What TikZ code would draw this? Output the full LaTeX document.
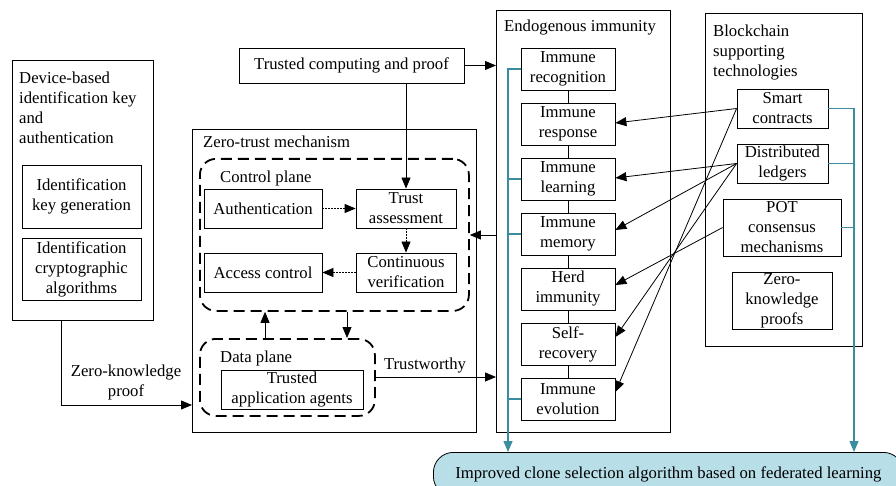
\documentclass[tikz,border=0pt]{standalone}
\usepackage{fontspec}
\setmainfont{Liberation Serif}
\usetikzlibrary{arrows.meta}
\definecolor{linkteal}{RGB}{58,140,160}
\definecolor{pillfill}{RGB}{184,222,232}

\begin{document}
\begin{tikzpicture}[x=1pt,y=-1pt,
  font=\fontsize{16.7}{20}\selectfont,
  box/.style={draw, line width=0.8pt, align=center, inner sep=0pt},
  frame/.style={draw, line width=0.8pt, inner sep=0pt, anchor=north west},
  plane/.style={draw, line width=1.8pt, dash pattern=on 11pt off 6pt,
                rounded corners=16pt, inner sep=0pt, anchor=north west},
  arr/.style={-{Triangle[length=11pt,width=9pt]}, line width=0.8pt},
  darr/.style={arr, dash pattern=on 1.5pt off 1.5pt},
  tline/.style={draw=linkteal, line width=1.3pt},
  tarr/.style={tline, -{Triangle[length=11pt,width=9pt]}},
  lbl/.style={inner sep=0pt, align=left}
]
\useasboundingbox (0,0) rectangle (896,486);
\clip (0,0) rectangle (896,486);

% ---- device-based identification ----
\node[frame, minimum width=141, minimum height=260] (dev) at (12,60) {};
\node[lbl, anchor=north west] (devt) at (19,72)
  {Device-based\\identification key\\and\\authentication};
\node[box, minimum width=119, minimum height=63] (keygen) at (81.5,196.5)
  {Identification\\key generation};
\node[box, minimum width=119, minimum height=62] (crypt) at (81.5,269)
  {Identification\\cryptographic\\algorithms};

% ---- trusted computing ----
\node[box, minimum width=225, minimum height=35] (tc) at (351.5,65.5)
  {Trusted computing and proof};

% ---- zero-trust mechanism ----
\node[frame, minimum width=284, minimum height=303] (zt) at (192,129) {};
\node[lbl, anchor=west] (ztt) at (203,142) {Zero-trust mechanism};
\node[plane, minimum width=269, minimum height=152] (cp) at (199,158) {};
\node[lbl, anchor=west] (cpt) at (220,178) {Control plane};
\node[box, minimum width=118, minimum height=39] (auth) at (263,208.5) {Authentication};
\node[box, minimum width=100, minimum height=39] (trust) at (406,208.5) {Trust\\assessment};
\node[box, minimum width=118, minimum height=39] (access) at (263,272.5) {Access control};
\node[box, minimum width=100, minimum height=39] (contv) at (406,272.5) {Continuous\\verification};
\node[plane, minimum width=175, minimum height=77] (dp) at (199,338) {};
\node[lbl, anchor=west] (dpt) at (220,358) {Data plane};
\node[box, minimum width=142, minimum height=39] (taa) at (292,389.5)
  {Trusted\\application agents};

% ---- endogenous immunity ----
\node[frame, minimum width=174, minimum height=422] (en) at (496,10) {};
\node[inner sep=0pt] (ent) at (580,28) {Endogenous immunity};
\foreach \n/\t/\y in {irec/{Immune\\recognition}/69, iresp/{Immune\\response}/124,
    ilearn/{Immune\\learning}/179, imem/{Immune\\memory}/234,
    iherd/{Herd\\immunity}/289, iself/{Self-\\recovery}/344,
    ievo/{Immune\\evolution}/399}
  \node[box, minimum width=94, minimum height=42] (\n) at (568,\y) {\t};
\draw[line width=0.8pt] (irec) -- (iresp) -- (ilearn) -- (imem) -- (iherd) -- (iself) -- (ievo);

% ---- blockchain supporting technologies ----
\node[frame, minimum width=157, minimum height=333] (bc) at (705,13) {};
\node[lbl, anchor=north west] (bct) at (713,25)
  {Blockchain\\supporting\\technologies};
\node[box, minimum width=91, minimum height=39] (sc) at (782.5,108.5) {Smart\\contracts};
\node[box, minimum width=91, minimum height=39] (dl) at (782.5,163.5) {Distributed\\ledgers};
\node[box, minimum width=118, minimum height=57] (pot) at (782,227.5)
  {POT\\consensus\\mechanisms};
\node[box, minimum width=100, minimum height=57] (zkp) at (782,300.5)
  {Zero-\\knowledge\\proofs};

% ---- federated learning target ----
\node[draw, line width=0.8pt, fill=pillfill, rounded corners=20pt, anchor=north west,
      minimum width=470, minimum height=44, inner sep=0pt] (pill) at (433,452)
  {Improved clone selection algorithm based on federated learning};

% ---- connectors ----
\draw[arr] ([xshift=49pt]dev.south west) |- (zt.west |- 0,405);
\node[align=center, inner sep=0pt] (zkl) at (126,382) {Zero-knowledge\\proof};

\draw[arr] (tc.east) -- (tc.east -| en.west);
\draw[arr] (tc.south -| trust.north) -- (trust.north);

\draw[darr] (auth.east) -- (trust.west);
\draw[darr] (trust.south) -- (contv.north);
\draw[darr] (contv.west) -- (access.east);

\draw[arr] (dp.north -| 265,0) -- (cp.south -| 265,0);
\draw[arr] (cp.south -| 347,0) -- (dp.north -| 347,0);

\draw[arr] (dp.east |- 0,377) -- (en.west |- 0,377);
\node[inner sep=0pt] (tw) at (425,366) {Trustworthy};
\draw[arr] (en.west |- 0,235) -- (cp.east |- 0,235);

\draw[arr] (sc.west) -- (iresp.east |- 0,123);
\draw[arr] (sc.west) -- (ievo.east |- 0,392);
\draw[arr] (dl.west) -- (ilearn.east |- 0,178);
\draw[arr] (dl.west) -- (imem.east |- 0,230);
\draw[arr] (dl.west) -- (iself.east |- 0,337);
\draw[arr] (pot.west) -- (iherd.east |- 0,285);

% teal feeds into the target
\draw[tarr] (irec.west) -| (pill.north -| 508,0);
\foreach \n in {ilearn, imem, ievo}
  \draw[tline] (\n.west) -- (\n.west -| 508,0);
\draw[tarr] (sc.east) -| (pill.north -| 854,0);
\foreach \n in {dl, pot}
  \draw[tline] (\n.east) -- (\n.east -| 854,0);
\end{tikzpicture}
\end{document}
